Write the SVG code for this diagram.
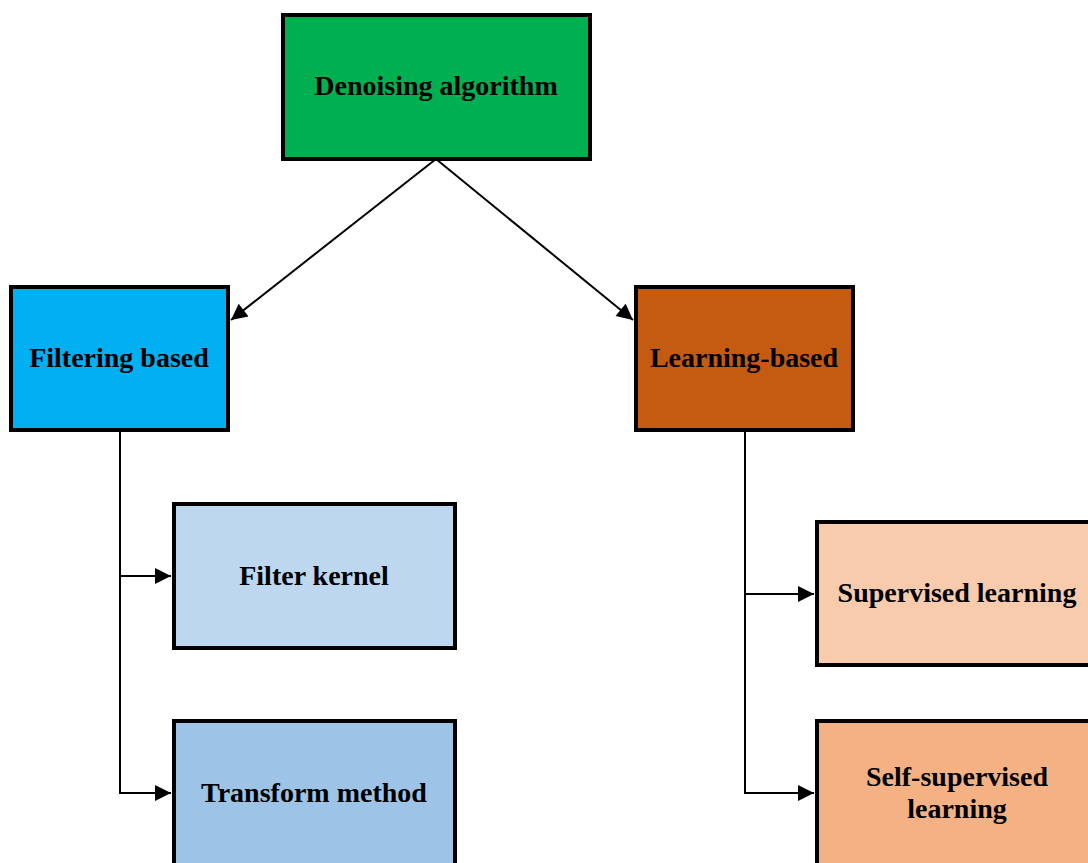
<svg xmlns="http://www.w3.org/2000/svg" width="1088" height="863" viewBox="0 0 1088 863">
<style>
.box{stroke:#000;stroke-width:4}
.lbl{font-family:"Liberation Serif","Times New Roman",serif;font-weight:bold;font-size:28px;fill:#000;text-anchor:middle}
.conn{stroke:#000;stroke-width:2;fill:none}
</style>
<defs>
<marker id="arr" viewBox="0 0 10 10" refX="10" refY="5" markerWidth="9" markerHeight="8" markerUnits="strokeWidth" orient="auto">
<path d="M0,0 L10,5 L0,10 z" fill="#000"/>
</marker>
</defs>
<rect width="1088" height="863" fill="#fff"/>
<g id="connectors">
<line class="conn" x1="436" y1="159" x2="231" y2="320" marker-end="url(#arr)"/>
<line class="conn" x1="436" y1="159" x2="633" y2="320" marker-end="url(#arr)"/>
<polyline class="conn" points="120,430 120,793 171,793" marker-end="url(#arr)"/>
<line class="conn" x1="120" y1="576" x2="171" y2="576" marker-end="url(#arr)"/>
<polyline class="conn" points="745,430 745,793 814,793" marker-end="url(#arr)"/>
<line class="conn" x1="745" y1="594" x2="814" y2="594" marker-end="url(#arr)"/>
</g>
<g id="denoising">
<rect class="box" x="283" y="15" width="307" height="144" fill="#00B050"/>
<text class="lbl" x="436" y="95">Denoising algorithm</text>
</g>
<g id="filtering">
<rect class="box" x="11" y="287" width="217" height="143" fill="#00B0F0"/>
<text class="lbl" x="119" y="367">Filtering based</text>
</g>
<g id="learning">
<rect class="box" x="636" y="287" width="217" height="143" fill="#C55A11"/>
<text class="lbl" x="744" y="367">Learning-based</text>
</g>
<g id="filterkernel">
<rect class="box" x="174" y="504" width="281" height="144" fill="#BDD7EE"/>
<text class="lbl" x="314" y="585">Filter kernel</text>
</g>
<g id="transform">
<rect class="box" x="174" y="721" width="281" height="160" fill="#9DC3E6"/>
<text class="lbl" x="314" y="802">Transform method</text>
</g>
<g id="supervised">
<rect class="box" x="817" y="522" width="290" height="143" fill="#F8CBAD"/>
<text class="lbl" x="957" y="602">Supervised learning</text>
</g>
<g id="selfsupervised">
<rect class="box" x="817" y="721" width="290" height="160" fill="#F4B183"/>
<text class="lbl" x="957" y="786">Self-supervised</text>
<text class="lbl" x="957" y="818">learning</text>
</g>
</svg>
